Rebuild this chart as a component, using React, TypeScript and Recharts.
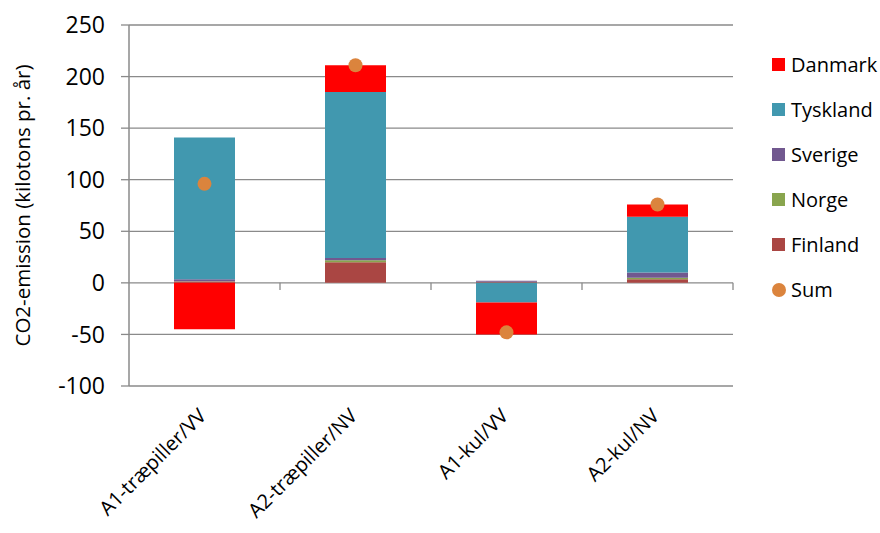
import React from "react";
import {
  ComposedChart,
  Bar,
  Line,
  XAxis,
  YAxis,
  CartesianGrid,
  Legend,
  ReferenceLine,
} from "recharts";

const categories = [
  "A1-træpiller/VV",
  "A2-træpiller/NV",
  "A1-kul/VV",
  "A2-kul/NV",
];

// kilotons CO2 per year
const danmark = [-45, 26, -31, 12];
const tyskland = [137.5, 161, -19, 54];
const sverige = [2, 2, 1, 5];
const norge = [0.3, 2, 0, 1.5];
const finland = [1.2, 20, 1, 3.5];
const sum = [96, 211, -48, 76];

const yTicks = [-100, -50, 0, 50, 100, 150, 200, 250];

const FONT = "'Open Sans', sans-serif";
const GRID = "#8a8a8a";
const SUM_COLOR = "#DB843D";

const series = [
  { key: "Finland", color: "#AA4643" },
  { key: "Norge", color: "#89A54E" },
  { key: "Sverige", color: "#71588F" },
  { key: "Tyskland", color: "#4198AF" },
  { key: "Danmark", color: "#FF0000" },
];

const legendOrder = ["Danmark", "Tyskland", "Sverige", "Norge", "Finland"];

const data = categories.map((name, i) => ({
  name,
  Danmark: danmark[i],
  Tyskland: tyskland[i],
  Sverige: sverige[i],
  Norge: norge[i],
  Finland: finland[i],
  Sum: sum[i],
}));

const XTick = (props: any) => {
  const { x, y, payload } = props;
  return (
    <g transform={`translate(${x + 3},${y + 23})`}>
      <text
        transform="rotate(-45)"
        textAnchor="end"
        fontSize={20}
        fontFamily={FONT}
        fill="#000"
      >
        {payload.value}
      </text>
    </g>
  );
};

const LegendBox = () => {
  const colorOf = (k: string) => series.find((s) => s.key === k)!.color;
  return (
    <div style={{ fontFamily: FONT, fontSize: 20, color: "#000" }}>
      {legendOrder.map((k) => (
        <div
          key={k}
          style={{ display: "flex", alignItems: "center", height: 45 }}
        >
          <span
            style={{
              width: 13,
              height: 13,
              background: colorOf(k),
              marginRight: 6,
              display: "inline-block",
            }}
          />
          {k}
        </div>
      ))}
      <div style={{ display: "flex", alignItems: "center", height: 45 }}>
        <span
          style={{
            width: 14,
            height: 14,
            borderRadius: 7,
            background: SUM_COLOR,
            marginRight: 5,
            display: "inline-block",
          }}
        />
        Sum
      </div>
    </div>
  );
};

export default function App() {
  return (
    <div style={{ position: "absolute", left: 0, top: 0, background: "#fff" }}>
      <ComposedChart
        width={880}
        height={533}
        data={data}
        stackOffset="sign"
        margin={{ top: 25, right: 39, bottom: 0, left: 0 }}
        barCategoryGap="30%"
      >
        <CartesianGrid
          vertical={false}
          stroke={GRID}
          strokeWidth={1.3}
        />
        <XAxis
          dataKey="name"
          height={147}
          axisLine={false}
          tickLine={false}
          interval={0}
          tick={<XTick />}
        />
        <YAxis
          width={129}
          domain={[-100, 250]}
          ticks={yTicks}
          interval={0}
          tickSize={8}
          tickMargin={16}
          axisLine={{ stroke: GRID, strokeWidth: 1.5 }}
          tickLine={{ stroke: GRID, strokeWidth: 1.3 }}
          tick={{ fill: "#000", fontSize: 23, fontFamily: FONT }}
          label={{
            content: ({ viewBox }: any) => {
              const cx = viewBox.x + 22;
              const cy = viewBox.y + viewBox.height / 2;
              return (
                <text
                  x={cx}
                  y={cy}
                  transform={`rotate(-90 ${cx} ${cy})`}
                  textAnchor="middle"
                  dominantBaseline="central"
                  fontSize={20.5}
                  fontFamily={FONT}
                  fill="#000"
                >
                  CO2-emission (kilotons pr. år)
                </text>
              );
            },
          }}
        />
        {categories.map((c) => (
          <ReferenceLine
            key={c}
            segment={[
              { x: c, y: 0 },
              { x: c, y: -7 },
            ]}
            position="end"
            stroke={GRID}
            strokeWidth={1.3}
          />
        ))}
        {series.map((s) => (
          <Bar
            key={s.key}
            dataKey={s.key}
            stackId="a"
            fill={s.color}
            barSize={61}
            isAnimationActive={false}
          />
        ))}
        <Line
          dataKey="Sum"
          stroke="none"
          dot={{ r: 7, fill: SUM_COLOR, stroke: "none" }}
          activeDot={false}
          legendType="circle"
          isAnimationActive={false}
        />
        <Legend
          layout="vertical"
          align="right"
          verticalAlign="top"
          content={<LegendBox />}
          wrapperStyle={{ position: "absolute", left: 772, top: 42, width: 108 }}
        />
      </ComposedChart>
    </div>
  );
}
